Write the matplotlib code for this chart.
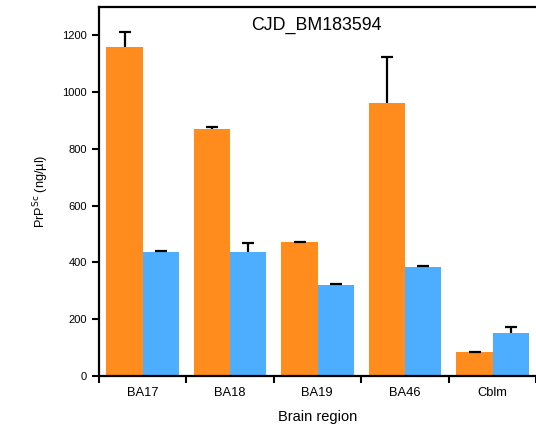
import numpy as np
import matplotlib
matplotlib.use('Agg')
import matplotlib.pyplot as plt
from matplotlib import rc
rc('font', family='Liberation Sans')

# ---- data ----
regions = ['BA17', 'BA18', 'BA19', 'BA46', 'Cblm']
orange_vals = [1159, 870, 470, 961, 82]
orange_err = [53, 8, 3, 161, 1]
blue_vals = [437, 435, 318, 383, 150]
blue_err = [2, 34, 4, 3, 23]
yticks = [0, 200, 400, 600, 800, 1000, 1200]

c_orange = '#FF8C1C'
c_blue = '#4DADFF'

fig = plt.figure(figsize=(5.36, 4.26), dpi=100)
ax = fig.add_axes([0.1838, 0.1181, 0.8162, 0.8655])

x = np.arange(len(regions))
ax.bar(x + 0.09, orange_vals, width=0.415, align='edge', color=c_orange, zorder=2)
ax.bar(x + 0.505, blue_vals, width=0.41, align='edge', color=c_blue, zorder=2)

# upper-only error bars (hide the lower cap)
for xc, vals, err in [(x + 0.2975, orange_vals, orange_err), (x + 0.71, blue_vals, blue_err)]:
    eb = ax.errorbar(xc, vals, yerr=[np.zeros(len(vals)), err], fmt='none',
                     ecolor='k', elinewidth=1.6, capsize=4, capthick=1.6, zorder=3)
    eb[1][0].set_visible(False)

ax.set_xlim(0, 5)
ax.set_ylim(0, 1300)
ax.set_yticks(yticks)
ax.set_xticks(np.arange(0, 6))
ax.set_xticklabels([])
ax.set_xticks(x + 0.5, minor=True)
ax.set_xticklabels(regions, minor=True)
ax.tick_params(axis='x', which='minor', length=0, pad=8, labelsize=9.3)
ax.tick_params(axis='both', which='major', direction='out', length=5, width=1.5, labelsize=8)

for sp in ['left', 'top', 'bottom']:
    ax.spines[sp].set_linewidth(1.6)
ax.spines['right'].set_visible(False)

ax.text(0.498, 0.951, 'CJD_BM183594', transform=ax.transAxes, ha='center', va='center', fontsize=12.8)
ax.set_ylabel('PrP$^{\\mathrm{Sc}}$ (ng/µl)', fontsize=9.2, labelpad=8)
ax.set_xlabel('Brain region', fontsize=10.5, labelpad=8)

plt.savefig('out.png', dpi=100)
